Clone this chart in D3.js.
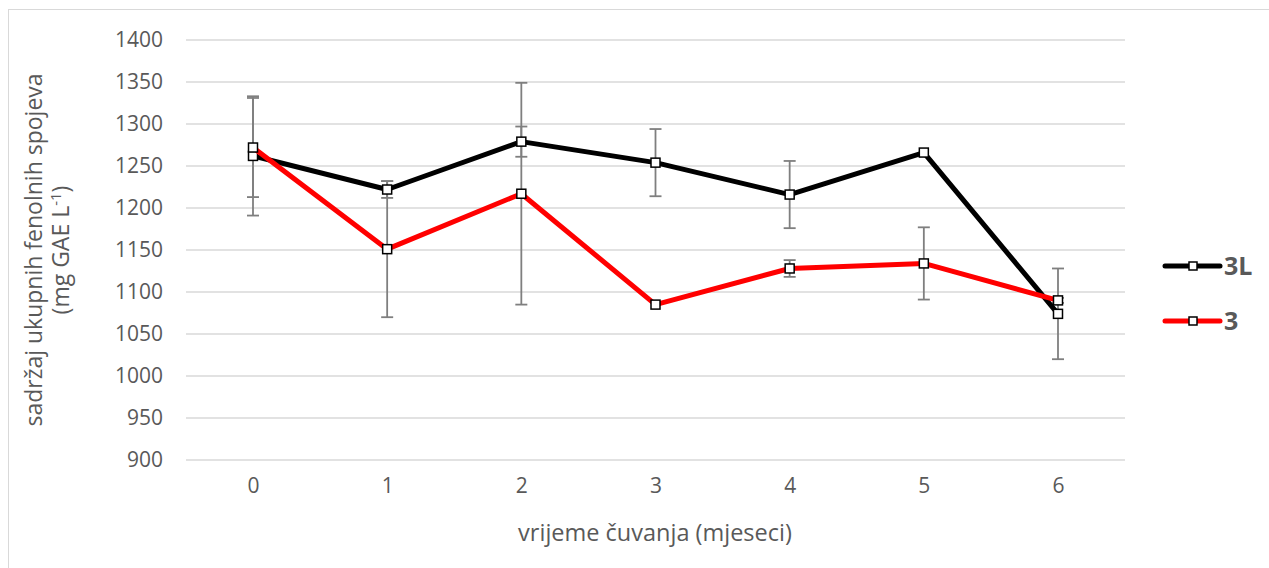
<!DOCTYPE html>
<html><head><meta charset="utf-8">
<script src="https://cdn.jsdelivr.net/npm/d3@7/dist/d3.min.js"></script>
<style>body{margin:0;background:#fff;} svg{display:block;}</style>
</head><body>
<svg id="c" width="1269" height="568"></svg>
<script>
const categories = ["0","1","2","3","4","5","6"];
const series3L = [1262, 1222, 1279, 1254, 1216, 1266, 1074];
const err3L    = [71, 10, 18, 40, 40, 0, 54];
const series3  = [1272, 1151, 1217, 1085, 1128, 1134, 1090];
const err3     = [59, 81, 132, 0, 10, 43, 3];
const yTicks   = [900, 950, 1000, 1050, 1100, 1150, 1200, 1250, 1300, 1350, 1400];
const seriesNames = ["3L", "3"];
const seriesColors = ["#000000", "#ff0000"];

const svg = d3.select("#c");
const font = "'Open Sans', sans-serif";
const txt = "#595959";

svg.append("rect").attr("x",8.5).attr("y",9.5).attr("width",1300).attr("height",600)
  .attr("fill","none").attr("stroke","#d9d9d9").attr("stroke-width",1);

const x = d3.scalePoint().domain(categories).range([253, 1058]);
const y = d3.scaleLinear().domain([900, 1400]).range([460, 40]);
const L = 186, R = 1125;

// gridlines
svg.append("g").selectAll("line").data(yTicks).join("line")
  .attr("x1", L).attr("x2", R).attr("y1", d => y(d)).attr("y2", d => y(d))
  .attr("stroke", "#d9d9d9").attr("stroke-width", 1.3);

// y axis labels
const yAxis = d3.axisLeft(y).tickValues(yTicks).tickFormat(d3.format("d")).tickSize(0).tickPadding(0);
const ya = svg.append("g").attr("transform", `translate(163,0)`).call(yAxis);
ya.select(".domain").remove();
ya.selectAll("text").attr("font-family", font).attr("font-size", 21).attr("fill", txt);

// x axis labels
const xAxis = d3.axisBottom(x).tickSize(0).tickPadding(0);
const xa = svg.append("g").attr("transform", `translate(0,478)`).call(xAxis);
xa.select(".domain").remove();
xa.selectAll("text").attr("font-family", font).attr("font-size", 21).attr("fill", txt);

// axis titles
svg.append("text").attr("x", 655).attr("y", 541).attr("text-anchor","middle")
  .attr("font-family", font).attr("font-size", 23.5).attr("fill", txt)
  .text("vrijeme čuvanja (mjeseci)");
const yt = svg.append("g").attr("transform", "translate(0,250) rotate(-90)");
yt.append("text").attr("x",0).attr("y",42).attr("text-anchor","middle")
  .attr("font-family", font).attr("font-size", 23).attr("fill", txt)
  .text("sadržaj ukupnih fenolnih spojeva");
const t2 = yt.append("text").attr("x",0).attr("y",69).attr("text-anchor","middle")
  .attr("font-family", font).attr("font-size", 23).attr("fill", txt);
t2.append("tspan").text("(mg GAE L");
t2.append("tspan").attr("dy",-8).attr("font-size",15).text("-1");
t2.append("tspan").attr("dy",8).text(")");

const allSeries = [
  {name: seriesNames[0], vals: series3L, err: err3L, color: seriesColors[0]},
  {name: seriesNames[1], vals: series3, err: err3, color: seriesColors[1]}
];

// error bars
allSeries.forEach(s => {
  const g = svg.append("g").attr("stroke", "#7f7f7f").attr("stroke-width", 1.8);
  s.vals.forEach((v, i) => {
    if (!s.err[i]) return;
    const cx = x(categories[i]);
    g.append("line").attr("x1", cx).attr("x2", cx).attr("y1", y(v + s.err[i])).attr("y2", y(v - s.err[i]));
    [v + s.err[i], v - s.err[i]].forEach(e => {
      g.append("line").attr("x1", cx - 6).attr("x2", cx + 6).attr("y1", y(e)).attr("y2", y(e));
    });
  });
});

const line = d3.line().x((d, i) => x(categories[i])).y(d => y(d));
allSeries.forEach(s => {
  svg.append("path").datum(s.vals).attr("d", line).attr("fill", "none")
    .attr("stroke", s.color).attr("stroke-width", 5).attr("stroke-linejoin", "round");
  svg.append("g").selectAll("rect").data(s.vals).join("rect")
    .attr("x", (d, i) => x(categories[i]) - 4.5).attr("y", d => y(d) - 4.5)
    .attr("width", 9).attr("height", 9).attr("fill", "#fff")
    .attr("stroke", "#000").attr("stroke-width", 1.5);
});

// legend
allSeries.forEach((s, i) => {
  const ly = 266 + i * 55;
  svg.append("line").attr("x1", 1165).attr("x2", 1220).attr("y1", ly).attr("y2", ly)
    .attr("stroke", s.color).attr("stroke-width", 5).attr("stroke-linecap", "round");
  svg.append("rect").attr("x", 1193 - 4).attr("y", ly - 4).attr("width", 8).attr("height", 8)
    .attr("fill", "#fff").attr("stroke", "#000").attr("stroke-width", 1.5);
  svg.append("text").attr("x", 1224).attr("y", ly + 9).attr("font-family", font)
    .attr("font-size", 25).attr("font-weight", "bold").attr("fill", txt).text(s.name);
});
</script>
</body></html>
